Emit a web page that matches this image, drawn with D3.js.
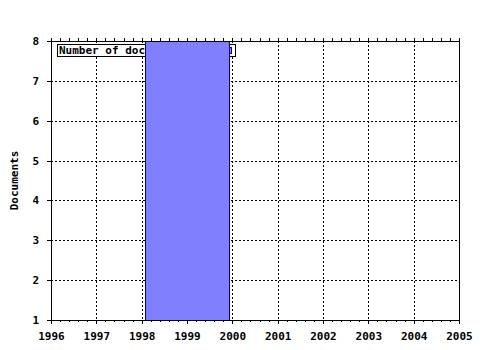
<!DOCTYPE html>
<html>
<head>
<meta charset="utf-8">
<script src="https://cdn.jsdelivr.net/npm/d3@7"></script>
<style>
body { margin: 0; background: #fff; }
text { font-family: "DejaVu Sans Mono", monospace; font-weight: bold; font-size: 11px; fill: #000; }
</style>
</head>
<body>
<svg id="chart" width="480" height="350"></svg>
<script>
"use strict";
// data
var years = [1996, 1997, 1998, 1999, 2000, 2001, 2002, 2003, 2004, 2005];
var yTicks = [1, 2, 3, 4, 5, 6, 7, 8];
var barFrom = [1998.07];
var barTo = [1999.93];
var barDocs = [8];
var legendLabel = "Number of documents";

var svg = d3.select("#chart");
var pLeft = 51, pRight = 459, pTop = 41, pBottom = 320;

var x = d3.scaleLinear().domain([1996, 2005]).range([pLeft, pRight]);
var y = d3.scaleLinear().domain([1, 8]).range([pBottom, pTop]);

// grid
var grid = svg.append("g").attr("stroke", "#000").attr("stroke-dasharray", "2,2").attr("shape-rendering", "crispEdges");
grid.selectAll("line.v").data(years.slice(1, -1)).enter().append("line")
  .attr("x1", d => Math.round(x(d)) + 0.5).attr("x2", d => Math.round(x(d)) + 0.5)
  .attr("y1", pTop).attr("y2", pBottom);
grid.selectAll("line.h").data(yTicks.slice(1, -1)).enter().append("line")
  .attr("y1", d => Math.round(y(d)) + 0.5).attr("y2", d => Math.round(y(d)) + 0.5)
  .attr("x1", pLeft).attr("x2", pRight);

// legend (bar is drawn over it)
var lg = svg.append("g");
lg.append("rect").attr("x", 57.5).attr("y", 44.5).attr("width", 178).attr("height", 12)
  .attr("fill", "#fff").attr("stroke", "#000");
lg.append("text").attr("x", 59).attr("y", 54).text(legendLabel);
lg.append("rect").attr("x", 227.5).attr("y", 47.5).attr("width", 4).attr("height", 6)
  .attr("fill", "#8080ff").attr("stroke", "#0000a0");

// bar
var bars = barFrom.map((d, i) => ({ from: d, to: barTo[i], v: barDocs[i] }));
svg.selectAll("rect.bar").data(bars).enter().append("rect")
  .attr("class", "bar")
  .attr("x", d => Math.round(x(d.from)) + 0.5)
  .attr("width", d => Math.round(x(d.to)) - Math.round(x(d.from)))
  .attr("y", d => Math.round(y(d.v)) + 0.5)
  .attr("height", d => Math.round(y(1)) - Math.round(y(d.v)))
  .attr("fill", "#8080ff").attr("stroke", "#0000a0");

// axes
var minor = d3.range(1996, 2005.001, 0.2);
var xAxis = d3.axisBottom(x).tickValues(years).tickFormat(d3.format("d")).tickSize(4).tickPadding(8);
var xMinor = d3.axisBottom(x).tickValues(minor).tickFormat("").tickSize(2);
var xTop = d3.axisTop(x).tickValues(minor).tickFormat("").tickSize(3);
var yAxis = d3.axisLeft(y).tickValues(yTicks).tickFormat(d3.format("d")).tickSize(4).tickPadding(8);

function style(g) {
  g.selectAll("path").remove();
  g.selectAll("line").attr("stroke", "#000");
  g.selectAll("text").attr("font-family", null).attr("font-size", null);
  g.attr("font-family", null).attr("font-size", null).attr("shape-rendering", "crispEdges");
}
svg.append("g").attr("transform", "translate(0," + pBottom + ")").call(xMinor).call(style);
svg.append("g").attr("transform", "translate(0," + pBottom + ")").call(xAxis).call(style);
svg.append("g").attr("transform", "translate(0," + pTop + ")").call(xTop).call(style);
svg.append("g").attr("transform", "translate(" + pLeft + ",0)").call(yAxis).call(style);

// frame
svg.append("rect").attr("x", pLeft + 0.5).attr("y", pTop + 0.5)
  .attr("width", pRight - pLeft).attr("height", pBottom - pTop)
  .attr("fill", "none").attr("stroke", "#000").attr("shape-rendering", "crispEdges");

svg.append("text").attr("transform", "translate(18," + ((pTop + pBottom) / 2) + ") rotate(-90)")
  .attr("text-anchor", "middle").text("Documents");
</script>
</body>
</html>
